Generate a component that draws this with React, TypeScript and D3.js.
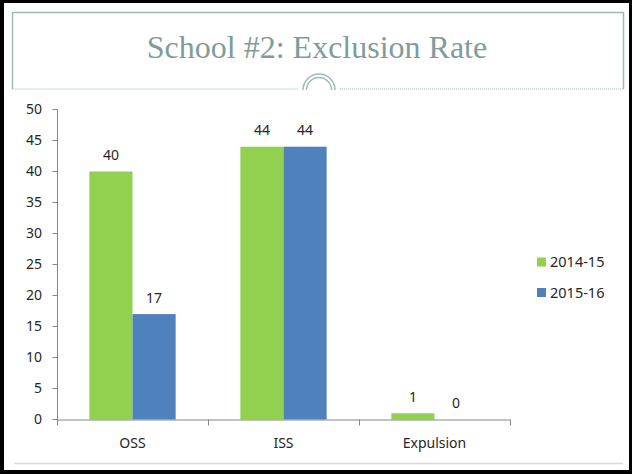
import React from "react";
import * as d3 from "d3";

const categories = ["OSS", "ISS", "Expulsion"];
const seriesNames = ["2014-15", "2015-16"];
const values2014 = [40, 44, 1];
const values2015 = [17, 44, 0];
const yTicks = [0, 5, 10, 15, 20, 25, 30, 35, 40, 45, 50];
const seriesColors = ["#92D050", "#4F81BD"];

const W = 632;
const H = 474;

export default function App() {
  const plot = { left: 57, right: 510, top: 109.5, bottom: 419.5 };
  const y = d3.scaleLinear().domain([0, 50]).range([plot.bottom, plot.top]);
  const x0 = d3
    .scaleBand<string>()
    .domain(categories)
    .range([plot.left, plot.right])
    .paddingInner(0)
    .paddingOuter(0);
  const groupInner = d3
    .scaleBand<string>()
    .domain(seriesNames)
    .range([0, x0.bandwidth()])
    .paddingOuter(0.75 / 1) // Excel gap width 150%
    .paddingInner(0);

  const series = [values2014, values2015];
  const font = "'Noto Sans', 'Open Sans', sans-serif";
  const textColor = "#262626";
  const boxColor = "#9DBAB8";

  const boundaries = [...categories.map((c) => x0(c)!), plot.right];

  return (
    <svg
      width={W}
      height={H}
      style={{ position: "absolute", left: 0, top: 0 }}
      fontFamily={font}
    >
      {/* slide frame */}
      <rect x={0} y={0} width={W} height={H} fill="#000" />
      <rect x={4} y={3} width={625} height={467} fill="#fff" />

      {/* title box */}
      <line x1={12.5} y1={12.5} x2={623.5} y2={12.5} stroke={boxColor} strokeWidth={1.5} />
      <line x1={12.5} y1={12} x2={12.5} y2={89} stroke={boxColor} strokeWidth={1.5} />
      <line x1={623.5} y1={12} x2={623.5} y2={89} stroke={boxColor} strokeWidth={1.5} />
      <line x1={12.5} y1={89} x2={298} y2={89} stroke={boxColor} strokeWidth={1} strokeDasharray="1 1" />
      <line x1={340} y1={89} x2={623.5} y2={89} stroke={boxColor} strokeWidth={1} strokeDasharray="1 1" />
      <path d="M303,90 A16,16 0 0 1 335,90" fill="none" stroke={boxColor} strokeWidth={1.5} />
      <path d="M306.5,90 A12.5,12.5 0 0 1 331.5,90" fill="none" stroke={boxColor} strokeWidth={1.5} />
      <text
        x={317}
        y={58}
        textAnchor="middle"
        fontFamily="'Liberation Serif', 'DejaVu Serif', serif"
        fontSize={32}
        fill="#7F9C9B"
      >
        School #2: Exclusion Rate
      </text>

      {/* bottom divider */}
      <line x1={14} y1={463.5} x2={623} y2={463.5} stroke="#DADADA" strokeWidth={1.5} />

      {/* y axis */}
      <line x1={plot.left + 0.5} y1={plot.top} x2={plot.left + 0.5} y2={plot.bottom} stroke="#868686" />
      {yTicks.map((t) => (
        <g key={t}>
          <line x1={plot.left - 4.5} x2={plot.left + 0.5} y1={y(t)} y2={y(t)} stroke="#868686" />
          <text x={42} y={y(t)} dy="0.35em" textAnchor="end" fontSize={14} fill={textColor}>
            {t}
          </text>
        </g>
      ))}

      {/* bars */}
      {categories.map((c, ci) =>
        series.map((vals, si) => {
          const bx = x0(c)! + groupInner(seriesNames[si])!;
          const bw = groupInner.bandwidth();
          const v = vals[ci];
          return (
            <g key={c + si}>
              <rect x={bx} y={y(v)} width={bw} height={y(0) - y(v)} fill={seriesColors[si]} />
              <text
                x={bx + bw / 2}
                y={y(v) - 11.5}
                textAnchor="middle"
                fontSize={14}
                fill={textColor}
              >
                {v}
              </text>
            </g>
          );
        })
      )}

      {/* x axis */}
      <line x1={plot.left} y1={plot.bottom + 0.5} x2={plot.right} y2={plot.bottom + 0.5} stroke="#868686" />
      {boundaries.map((bx, i) => (
        <line key={i} x1={bx + 0.5} x2={bx + 0.5} y1={plot.bottom} y2={plot.bottom + 6} stroke="#868686" />
      ))}
      {categories.map((c) => (
        <text
          key={c}
          x={x0(c)! + x0.bandwidth() / 2}
          y={448}
          textAnchor="middle"
          fontSize={14}
          fill={textColor}
        >
          {c}
        </text>
      ))}

      {/* legend */}
      {seriesNames.map((s, i) => (
        <g key={s} transform={`translate(537, ${262 + i * 30.5})`}>
          <rect x={0} y={-4.5} width={9} height={9} fill={seriesColors[i]} />
          <text x={13} y={0} dy="0.35em" fontSize={14.5} fill={textColor}>
            {s}
          </text>
        </g>
      ))}
    </svg>
  );
}
